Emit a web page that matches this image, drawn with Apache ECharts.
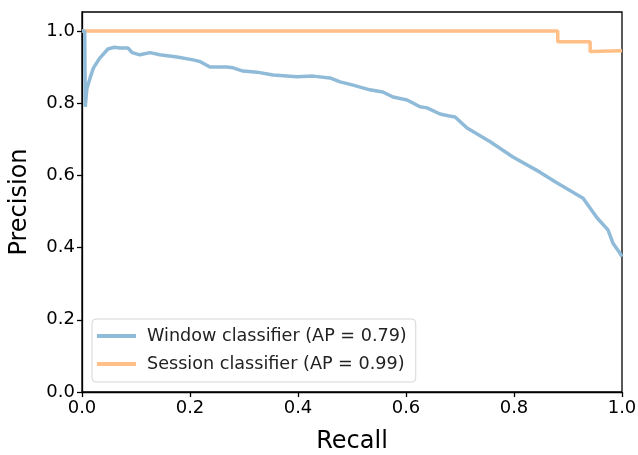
<!DOCTYPE html>
<html>
<head>
<meta charset="utf-8">
<script src="https://cdn.jsdelivr.net/npm/echarts@6/dist/echarts.min.js"></script>
<style>
  html, body { margin: 0; padding: 0; background: #fff; }
  #chart { width: 638px; height: 455px; }
</style>
</head>
<body>
<div id="chart"></div>
<script>
  // tick labels
  var tickValues = [0, 0.2, 0.4, 0.6, 0.8, 1.0]

  // Window classifier (AP = 0.79)
  var windowRecall = [0, 0.005, 0.006, 0.009, 0.015, 0.021, 0.033, 0.048, 0.06, 0.07, 0.085, 0.093,
    0.107, 0.126, 0.144, 0.176, 0.206, 0.219, 0.237, 0.268, 0.28, 0.298, 0.324, 0.354, 0.398,
    0.428, 0.459, 0.478, 0.502, 0.533, 0.557, 0.576, 0.602, 0.626, 0.639, 0.663, 0.678, 0.691,
    0.713, 0.756, 0.798, 0.848, 0.88, 0.928, 0.954, 0.974, 0.983, 0.996, 1.0]
  var windowPrecision = [1.0, 1.0, 0.79, 0.84, 0.87, 0.897, 0.925, 0.95, 0.955, 0.953, 0.953, 0.94,
    0.934, 0.94, 0.934, 0.928, 0.92, 0.915, 0.9, 0.9, 0.898, 0.889, 0.886, 0.878, 0.873,
    0.875, 0.87, 0.859, 0.85, 0.837, 0.831, 0.817, 0.809, 0.79, 0.787, 0.77, 0.765, 0.762,
    0.731, 0.693, 0.651, 0.609, 0.579, 0.537, 0.482, 0.449, 0.413, 0.385, 0.375]

  // Session classifier (AP = 0.99)
  var sessionRecall = [0, 0.881, 0.881, 0.941, 0.941, 1.0]
  var sessionPrecision = [1.0, 1.0, 0.97, 0.97, 0.943, 0.945]

  var seriesNames = ['Window classifier (AP = 0.79)', 'Session classifier (AP = 0.99)']

  function pairs(xs, ys) {
    return xs.map(function (x, i) { return [x, ys[i]] })
  }

  var chart = echarts.init(document.getElementById('chart'))
  var font = 'DejaVu Sans'

  function axisStyle(name, gap, max) {
    return {
      type: 'value',
      min: 0,
      max: max,
      name: name,
      nameLocation: 'middle',
      nameGap: gap,
      nameMoveOverlap: false,
      nameTextStyle: { fontFamily: font, fontSize: 24, color: '#000' },
      axisLine: { show: true, lineStyle: { color: '#000', width: 1.3 } },
      axisTick: { show: true, length: 5, customValues: tickValues, lineStyle: { color: '#000', width: 1.3 } },
      axisLabel: {
        customValues: tickValues,
        fontFamily: font,
        fontSize: 18,
        color: '#000',
        margin: 7,
        formatter: function (v) { return v.toFixed(1) },
      },
      splitLine: { show: false },
    }
  }

  chart.setOption({
    animation: false,
    backgroundColor: '#fff',
    grid: {
      left: 82,
      right: 16,
      top: 12,
      bottom: 63,
      outerBoundsMode: 'none',
      containLabel: false,
      show: true,
      borderColor: '#000',
      borderWidth: 1.3,
      backgroundColor: 'transparent',
    },
    legend: {
      orient: 'vertical',
      left: 92,
      top: 319,
      data: seriesNames,
      icon: 'rect',
      itemWidth: 39,
      itemHeight: 4,
      itemGap: 10,
      padding: [8, 9, 9, 5],
      backgroundColor: 'rgba(255,255,255,0.8)',
      borderColor: '#d6d6d6',
      borderWidth: 1,
      borderRadius: 4,
      textStyle: { fontFamily: font, fontSize: 17.6, color: '#222', padding: [0, 0, 0, 6] },
    },
    xAxis: axisStyle('Recall', 38, 1),
    yAxis: axisStyle('Precision', 50, 1.0526),
    series: [
      {
        name: seriesNames[0],
        type: 'line',
        data: pairs(windowRecall, windowPrecision),
        showSymbol: false,
        color: '#8fbbd9',
        lineStyle: { width: 3.5, color: '#8fbbd9' },
        z: 3,
      },
      {
        name: seriesNames[1],
        type: 'line',
        data: pairs(sessionRecall, sessionPrecision),
        showSymbol: false,
        color: '#ffbf86',
        lineStyle: { width: 3.5, color: '#ffbf86' },
        z: 2,
      },
    ],
  })
</script>
</body>
</html>
